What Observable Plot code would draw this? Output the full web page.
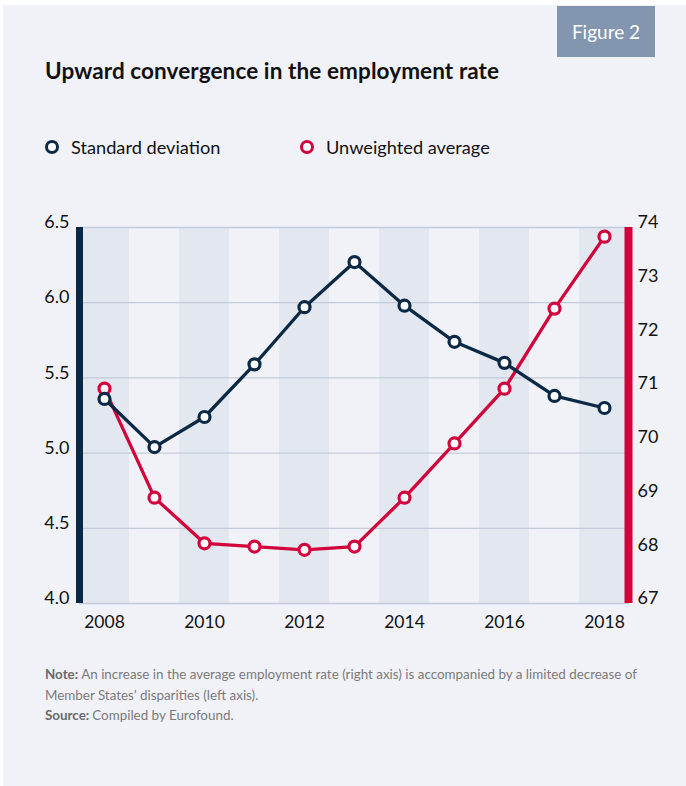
<!DOCTYPE html>
<html>
<head>
<meta charset="utf-8">
<script src="https://cdn.jsdelivr.net/npm/d3@7"></script>
<script src="https://cdn.jsdelivr.net/npm/@observablehq/plot@0.6"></script>
<style>
  html, body { margin: 0; padding: 0; background: #ffffff; }
  #page { position: relative; width: 686px; height: 786px; overflow: hidden; font-family: Lato, "Open Sans", sans-serif; }
  #panel { position: absolute; left: 3px; top: 5px; width: 683px; height: 781px; background: #f1f2f7; }
  #fig { position: absolute; left: 557px; top: 6px; width: 98px; height: 51px; background: #8296b0; color: #fff; font-size: 19px; display: flex; align-items: center; justify-content: center; }
  #title { position: absolute; left: 45px; top: 57px; font-size: 22.5px; font-weight: 700; color: #111; white-space: nowrap; letter-spacing: 0.1px; }
  .leg { position: absolute; top: 136px; font-size: 18.2px; color: #111; display: flex; align-items: center; white-space: nowrap; }
  .leg span.m { display: inline-block; width: 8px; height: 8px; border-radius: 50%; border: 3.5px solid; background: #fff; margin-right: 12px; }
  #chart { position: absolute; left: 0; top: 200px; }
  #note { position: absolute; left: 45px; top: 664px; width: 630px; font-size: 13.4px; line-height: 20.5px; color: #7a7a7a; }
  #note div { white-space: nowrap; }
  #note b { color: #6a6a6a; margin-right: 3px; }
</style>
</head>
<body>
<div id="page">
  <div id="panel"></div>
  <div id="fig">Figure 2</div>
  <div id="title">Upward convergence in the employment rate</div>
  <div class="leg" style="left:45px"><span class="m" style="border-color:#0b2945"></span>Standard deviation</div>
  <div class="leg" style="left:300px"><span class="m" style="border-color:#d2043c"></span>Unweighted average</div>
  <div id="chart"></div>
  <div id="note">
    <div><b>Note:</b><span>An increase in the average employment rate (right axis) is accompanied by a limited decrease of</span></div>
    <div><span>Member States’ disparities (left axis).</span></div>
    <div><b>Source:</b><span>Compiled by Eurofound.</span></div>
  </div>
</div>
<script>
const years = [2008, 2009, 2010, 2011, 2012, 2013, 2014, 2015, 2016, 2017, 2018];
const stdDev = [5.36, 5.04, 5.24, 5.59, 5.97, 6.27, 5.98, 5.74, 5.60, 5.38, 5.30];
const avgRate = [71.0, 68.97, 68.12, 68.06, 68.0, 68.06, 68.97, 69.98, 71.0, 72.49, 73.83];
const leftTicks = [4.0, 4.5, 5.0, 5.5, 6.0, 6.5];
const rightTicks = [67, 68, 69, 70, 71, 72, 73, 74];
const xTickYears = [2008, 2010, 2012, 2014, 2016, 2018];

const navy = "#0b2945";
const red = "#d2043c";

// map right-axis (67..74) onto left scale (4.0..6.5)
const toLeft = v => 4.0 + (v - 67) * (2.5 / 7);
const fromLeft = v => 67 + (v - 4.0) * (7 / 2.5);

const sdData = years.map((y, i) => ({year: y, v: stdDev[i]}));
const avData = years.map((y, i) => ({year: y, v: toLeft(avgRate[i])}));
const bands = years.filter(y => (y - 2008) % 2 === 0).map(y => ({x1: y - 0.5, x2: y + 0.5}));

const chart = Plot.plot({
  width: 686,
  height: 440,
  marginTop: 27,
  marginBottom: 37,
  marginLeft: 79,
  marginRight: 57,
  style: {background: "transparent", fontFamily: "Lato, 'Open Sans', sans-serif", fontSize: "18px", color: "#111"},
  x: {domain: [2007.5, 2018.5], label: null},
  y: {domain: [4.0, 6.5], label: null},
  marks: [
    Plot.rectY(bands, {x1: "x1", x2: "x2", y1: 4.0, y2: 6.5, fill: "#e3e7ef"}),
    Plot.ruleY(leftTicks, {stroke: "#c3cbda", strokeWidth: 1.3}),
    Plot.axisY(leftTicks, {anchor: "left", label: null, tickSize: 0, tickPadding: 10, dy: -5, tickFormat: d => d.toFixed(1), fontSize: 18, fill: "#111"}),
    Plot.axisY(rightTicks.map(toLeft), {anchor: "right", label: null, tickSize: 0, tickPadding: 8, dy: -5, tickFormat: d => String(Math.round(fromLeft(d))), fontSize: 18, fill: "#111"}),
    Plot.axisX(xTickYears, {label: null, tickSize: 0, tickPadding: 12, tickFormat: d => String(d), fontSize: 17.5, fill: "#111"}),
    Plot.ruleX([2007.5], {y1: 4.0, y2: 6.5, stroke: navy, strokeWidth: 7}),
    Plot.ruleX([2018.5], {y1: 4.0, y2: 6.5, stroke: red, strokeWidth: 8, dx: -1}),
    Plot.line(avData, {x: "year", y: "v", stroke: red, strokeWidth: 3.3}),
    Plot.line(sdData, {x: "year", y: "v", stroke: navy, strokeWidth: 3.3}),
    Plot.dot(avData, {x: "year", y: "v", r: 5.5, stroke: red, strokeWidth: 3.2, fill: "#fff"}),
    Plot.dot(sdData, {x: "year", y: "v", r: 5.5, stroke: navy, strokeWidth: 3.2, fill: "#fff"})
  ]
});
document.getElementById("chart").appendChild(chart);
</script>
</body>
</html>
